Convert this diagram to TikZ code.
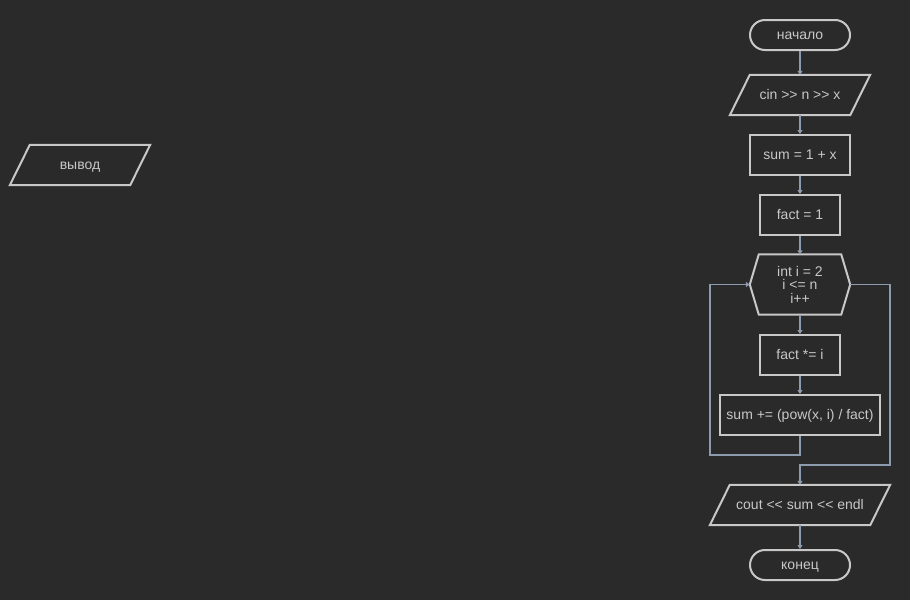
\documentclass[tikz,border=0pt]{standalone}
\usepackage{fontspec}
\setmainfont{Liberation Sans}
\usetikzlibrary{arrows.meta,shapes.misc,calc}
\definecolor{bg}{HTML}{2A2A2A}
\definecolor{fg}{HTML}{C8C8C8}
\definecolor{ln}{HTML}{8C9BAD}
\tikzset{
  x=1pt,y=-1pt,
  box/.style={rectangle,inner sep=0pt,text=fg,font=\fontsize{14}{13.5}\selectfont,align=center},
  single/.style={box,text height=10pt,text depth=1.4pt},
  drawn/.style={draw=fg,line width=2pt},
  outline/.style={draw=fg,line width=2pt,line join=miter},
  conn/.style={draw=ln,line width=1.6pt,-{Triangle[width=5pt,length=4pt]}},
}
\begin{document}
\begin{tikzpicture}
\fill[bg] (0,0) rectangle (910,600);
\useasboundingbox (0,0) rectangle (910,600);
% nodes
\node[single,rounded rectangle,drawn,minimum width=100pt,minimum height=30pt] (start) at (800,35) {начало};
\node[single,minimum width=100pt,minimum height=40pt] (in) at (800,95) {cin >{}> n >{}> x};
\node[single,drawn,minimum width=100pt,minimum height=40pt] (s1) at (800,155) {sum = 1 + x};
\node[single,drawn,minimum width=80pt,minimum height=40pt] (f1) at (800,215) {fact = 1};
\node[box,minimum width=100pt,minimum height=60pt] (loop) at (800,284.5) {int i = 2\\i <= n\\i++};
\node[single,drawn,minimum width=80pt,minimum height=40pt] (f2) at (800,355) {fact *= i};
\node[single,drawn,minimum width=160pt,minimum height=40pt] (s2) at (800,415) {sum += (pow(x, i) / fact)};
\node[single,minimum width=140pt,minimum height=40pt] (out) at (800,505) {cout <{}< sum <{}< endl};
\node[single,rounded rectangle,drawn,minimum width=100pt,minimum height=30pt] (end) at (800,565) {конец};
\node[single,minimum width=100pt,minimum height=40pt] (vyvod) at (80,165) {вывод};
% outlines of parallelograms
\foreach \n in {in,out,vyvod}{
  \draw[outline] (\n.north west) -- ($(\n.north east)+(20,0)$) -- (\n.south east) -- ($(\n.south west)+(-20,0)$) -- cycle;
}
% hexagon
\draw[outline] ($(loop.north west)+(9,0)$) -- ($(loop.north east)+(-9,0)$) -- (loop.east)
  -- ($(loop.south east)+(-9,0)$) -- ($(loop.south west)+(9,0)$) -- (loop.west) -- cycle;
% connectors
\draw[conn] (start.south) -- (in.north);
\draw[conn] (in.south) -- (s1.north);
\draw[conn] (s1.south) -- (f1.north);
\draw[conn] (f1.south) -- (loop.north);
\draw[conn] (loop.south) -- (f2.north);
\draw[conn] (f2.south) -- (s2.north);
\coordinate (lb) at (710,455);
\draw[conn] (s2.south) |- (lb) |- (loop.west);
\coordinate (ex) at (890,465);
\draw[conn] (loop.east) -| (ex) -| (out.north);
\draw[conn] (out.south) -- (end.north);
\end{tikzpicture}
\end{document}
